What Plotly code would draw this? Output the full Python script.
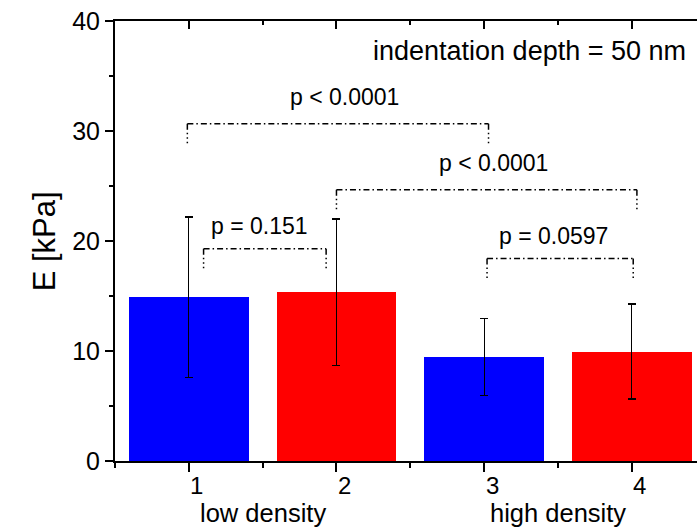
import plotly.graph_objects as go

# Young's modulus per sample group
groups = [1, 2, 3, 4]
group_labels = ["1", "2", "3", "4"]
modulus = [14.9, 15.35, 9.45, 9.95]
modulus_sd = [7.28, 6.65, 3.5, 4.32]
bar_colors = ["#0000FF", "#FF0000", "#0000FF", "#FF0000"]

# pairwise comparisons: left group, right group, bracket height, p-value text
cmp_left = [0.99, 2.0, 1.10, 3.02]
cmp_right = [3.03, 4.035, 1.93, 4.01]
cmp_level = [30.67, 24.67, 19.3, 18.4]
cmp_text = ["p < 0.0001", "p < 0.0001", "p = 0.151", "p = 0.0597"]
cmp_text_x = [2.056, 3.065, 1.48, 3.47]
cmp_text_y = [33.06, 27.06, 21.34, 20.43]
leg_drop = 2.0

density_labels = ["low density", "high density"]
density_pos = [1.5, 3.5]

FONT = "Liberation Sans, Arial, sans-serif"
X_RANGE = [0.5, 4.442]
MINOR_X = [0.5, 1.5, 2.5, 3.5]

fig = go.Figure()

fig.add_trace(go.Bar(
    x=groups, y=modulus, width=0.81,
    marker=dict(color=bar_colors, line=dict(width=0)),
    error_y=dict(type="data", array=modulus_sd, visible=True,
                 color="black", thickness=1.2, width=4),
    showlegend=False,
))

h_dash = "6px,3px,1.5px,3px"
v_dash = "6px,3px,1.5px,3px,1.5px,3px,1.5px,3px"
for x1, x2, yb in zip(cmp_left, cmp_right, cmp_level):
    fig.add_trace(go.Scatter(x=[x1, x2], y=[yb, yb], mode="lines",
                             line=dict(color="black", width=1.5, dash=h_dash),
                             showlegend=False, hoverinfo="skip"))
    for xl in (x1, x2):
        fig.add_trace(go.Scatter(x=[xl, xl], y=[yb, yb - leg_drop], mode="lines",
                                 line=dict(color="black", width=1.5, dash=v_dash),
                                 showlegend=False, hoverinfo="skip"))

# invisible trace so the mirrored top axis is drawn
fig.add_trace(go.Scatter(x=[1], y=[0], xaxis="x2", mode="markers",
                         marker=dict(opacity=0), showlegend=False, hoverinfo="skip"))

for tx, ty, t in zip(cmp_text_x, cmp_text_y, cmp_text):
    fig.add_annotation(x=tx, y=ty, text=t, showarrow=False,
                       font=dict(family=FONT, size=23, color="black"))

fig.add_annotation(x=4.38, y=37.3, text="indentation depth = 50 nm", showarrow=False,
                   xanchor="right", font=dict(family=FONT, size=27, color="black"))

# group numbers under the x axis
for g, lab in zip(groups, group_labels):
    fig.add_annotation(x=g, xref="x", y=-0.055, yref="paper", yanchor="middle",
                       xshift=8, text=lab, showarrow=False,
                       font=dict(family=FONT, size=24, color="black"))

for lab, pos in zip(density_labels, density_pos):
    fig.add_annotation(x=pos, xref="x", y=-0.119, yref="paper", yanchor="middle",
                       text=lab, showarrow=False,
                       font=dict(family=FONT, size=25.5, color="black"))

fig.add_annotation(xref="paper", yref="paper", x=-0.155, y=0.5, text="E [kPa]",
                   textangle=-90, showarrow=False,
                   font=dict(family=FONT, size=31, color="black"))

fig.update_layout(
    width=697, height=528,
    margin=dict(l=115, r=0, t=21, b=67),
    plot_bgcolor="white", paper_bgcolor="white",
    bargap=0,
    xaxis=dict(range=X_RANGE, tickmode="array", tickvals=groups,
               showticklabels=False,
               ticks="outside", ticklen=9, tickwidth=2, tickcolor="black",
               minor=dict(ticks="outside", ticklen=5, tickwidth=2, tickcolor="black",
                          tickmode="array", tickvals=MINOR_X),
               showline=True, linewidth=2, linecolor="black",
               showgrid=False, zeroline=False),
    xaxis2=dict(range=X_RANGE, overlaying="x", side="top",
                tickmode="array", tickvals=groups, showticklabels=False,
                ticks="inside", ticklen=8, tickwidth=2, tickcolor="black",
                minor=dict(ticks="inside", ticklen=4, tickwidth=2, tickcolor="black",
                           tickmode="array", tickvals=MINOR_X),
                showline=True, linewidth=2, linecolor="black",
                showgrid=False, zeroline=False),
    yaxis=dict(range=[0, 40], tickmode="linear", tick0=0, dtick=10,
               ticks="outside", ticklen=8, tickwidth=2, tickcolor="black",
               minor=dict(ticks="outside", ticklen=4, tickwidth=2, tickcolor="black",
                          tickmode="linear", tick0=5, dtick=10),
               showline=True, linewidth=2, linecolor="black",
               showgrid=False, zeroline=False,
               tickfont=dict(family=FONT, size=25, color="black")),
)

fig.write_html("out.html")
